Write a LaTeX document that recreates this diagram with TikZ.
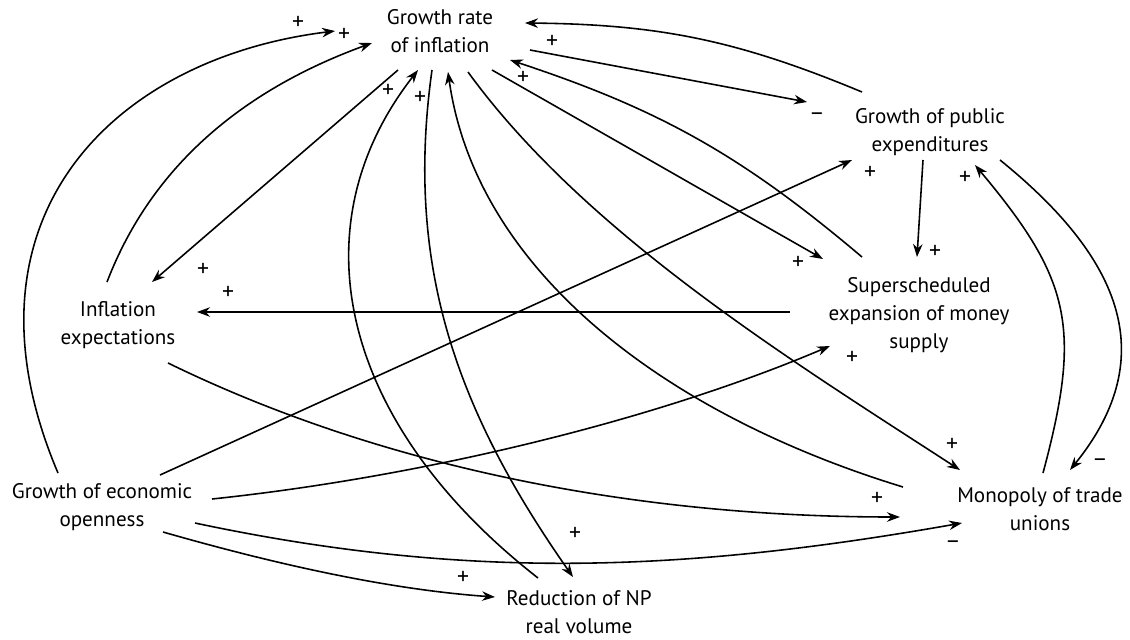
\documentclass[tikz,border=0pt]{standalone}
\usepackage{fontspec}
\setmainfont{PT Sans}
\setsansfont{PT Sans}
\usetikzlibrary{arrows.meta, calc}

\begin{document}
\begin{tikzpicture}[
    font=\sffamily\fontsize{12}{16}\selectfont,
    >={Stealth[length=2.6mm, width=1.9mm]},
    line width=0.9pt,
    factor/.style={
      align=center,
      inner sep=0pt
    },
    link/.style={
      ->,
      line width=0.9pt
    },
    sgn/.style={
      inner sep=0pt,
      font=\sffamily\fontsize{13.5}{14}\selectfont
    }
]
\useasboundingbox (0,0) rectangle (22.6,-12.78);

% 1. NODES
\node[factor] (rate)   at (8.80,-0.62)  {Growth rate\\of inflation};
\node[factor] (spend)  at (18.60,-2.65) {Growth of public\\expenditures};
\node[factor] (money)  at (18.38,-6.30) {Superscheduled\\expansion of money\\supply};
\node[factor] (expect) at (2.36,-6.50)  {Inflation\\expectations};
\node[factor] (open)   at (2.04,-10.14) {Growth of economic\\openness};
\node[factor] (reduct) at (11.58,-12.24) {Reduction of NP\\real volume};
\node[factor] (unions) at (20.80,-10.18) {Monopoly of trade\\unions};

% 2. ARROWS
% into the growth rate of inflation
\draw[link] ($(open)+(-0.88,0.68)$) .. controls +(113:5.5) and +(187:4.5) .. ($(rate)+(-2.10,0)$)
    node[sgn, at end, xshift=-0.74cm, yshift=0.16cm] (s1) {+};
\draw[link] ($(expect)+(-0.22,0.86)$) .. controls +(69:2.6) and +(200:2.6) .. ($(rate)+(-1.36,-0.24)$)
    node[sgn, at end, xshift=-0.56cm, yshift=0.16cm] (s2) {+};
\draw[link] ($(reduct)+(-0.82,0.68)$) .. controls +(142:5) and +(232:4) .. ($(rate)+(-0.44,-0.78)$)
    node[sgn, at end, xshift=-0.60cm, yshift=-0.42cm] (s5) {+};
\draw[link] ($(unions)+(-2.74,0.44)$) .. controls +(163:5) and +(-82:4) .. ($(rate)+(0.16,-0.82)$)
    node[sgn, at end, xshift=-0.56cm, yshift=-0.52cm] (s7) {+};
\draw[link] ($(money)+(-1.14,1.16)$) to[bend right=11]
    node[sgn, at end, xshift=0.26cm, yshift=-0.36cm] (s10) {+} ($(rate)+(1.40,-0.58)$);
\draw[link] ($(spend)+(-1.36,0.81)$) to[bend right=11]
    node[sgn, at end, xshift=0.54cm, yshift=-0.38cm] (s12) {+} ($(rate)+(1.70,0.16)$);

% out of the growth rate of inflation
\draw[link] ($(rate)+(-0.84,-0.78)$) -- ($(expect)+(0.68,0.86)$)
    node[sgn, at end, xshift=1.02cm, yshift=0.24cm] (s3) {+};
\draw[link] ($(rate)+(-0.16,-0.78)$) .. controls +(262:4) and +(125:4) .. ($(reduct)+(-0.12,0.70)$)
    node[sgn, at end, xshift=0.04cm, yshift=0.86cm] (s6) {+};
\draw[link] ($(rate)+(0.56,-0.82)$) .. controls +(-54:4) and +(147:4) .. ($(unions)+(-1.60,0.78)$)
    node[sgn, at end, xshift=-0.16cm, yshift=0.50cm] (s8) {+};
\draw[link] ($(rate)+(1.04,-0.78)$) -- ($(money)+(-1.92,1.12)$)
    node[sgn, at end, xshift=-0.50cm, yshift=-0.08cm] (s9) {+};
\draw[link] ($(rate)+(1.80,-0.38)$) -- ($(spend)+(-2.46,0.61)$)
    node[sgn, at end, xshift=0.20cm, yshift=-0.30cm] (s11) {–};

% public expenditures, money supply and trade unions
\draw[link] ($(money)+(-2.58,0.06)$) -- ($(expect)+(1.58,0.26)$)
    node[sgn, at end, xshift=0.62cm, yshift=0.38cm] (s4) {+};
\draw[link] ($(spend)+(-0.14,-0.55)$) -- ($(money)+(-0.04,1.16)$)
    node[sgn, at end, xshift=0.36cm, yshift=0.10cm] (s13) {+};
\draw[link] ($(unions)+(0.06,0.72)$) .. controls +(75:3) and +(-50:3) .. ($(spend)+(0.90,-0.65)$)
    node[sgn, at end, xshift=-0.20cm, yshift=-0.26cm] (s14) {+};
\draw[link] ($(spend)+(1.40,-0.55)$) .. controls +(-39:3) and +(51:3) .. ($(unions)+(0.60,0.78)$)
    node[sgn, at end, xshift=0.60cm, yshift=0.14cm] (s15) {–};

% out of economic openness and inflation expectations
\draw[link] ($(open)+(1.16,0.64)$) -- ($(spend)+(-1.56,-0.55)$)
    node[sgn, at end, xshift=0.36cm, yshift=-0.26cm] (s16) {+};
\draw[link] ($(open)+(2.20,0.16)$) .. controls +(6:4) and +(203:4) .. ($(money)+(-1.78,-0.62)$)
    node[sgn, at end, xshift=0.44cm, yshift=-0.24cm] (s17) {+};
\draw[link] ($(expect)+(1.00,-0.76)$) .. controls +(-26:5) and +(180:5) .. ($(unions)+(-2.80,-0.16)$)
    node[sgn, at end, xshift=-0.46cm, yshift=0.36cm] (s18) {+};
\draw[link] ($(open)+(1.86,-0.32)$) .. controls +(-12:5.6) and +(190:5.6) .. ($(unions)+(-1.56,-0.28)$)
    node[sgn, at end, xshift=-0.18cm, yshift=-0.44cm] (s19) {–};
\draw[link] ($(open)+(1.22,-0.50)$) .. controls +(-16:2.2) and +(176:2.2) .. ($(reduct)+(-1.68,0.30)$)
    node[sgn, at end, xshift=-0.64cm, yshift=0.38cm] (s20) {+};

\end{tikzpicture}
\end{document}
